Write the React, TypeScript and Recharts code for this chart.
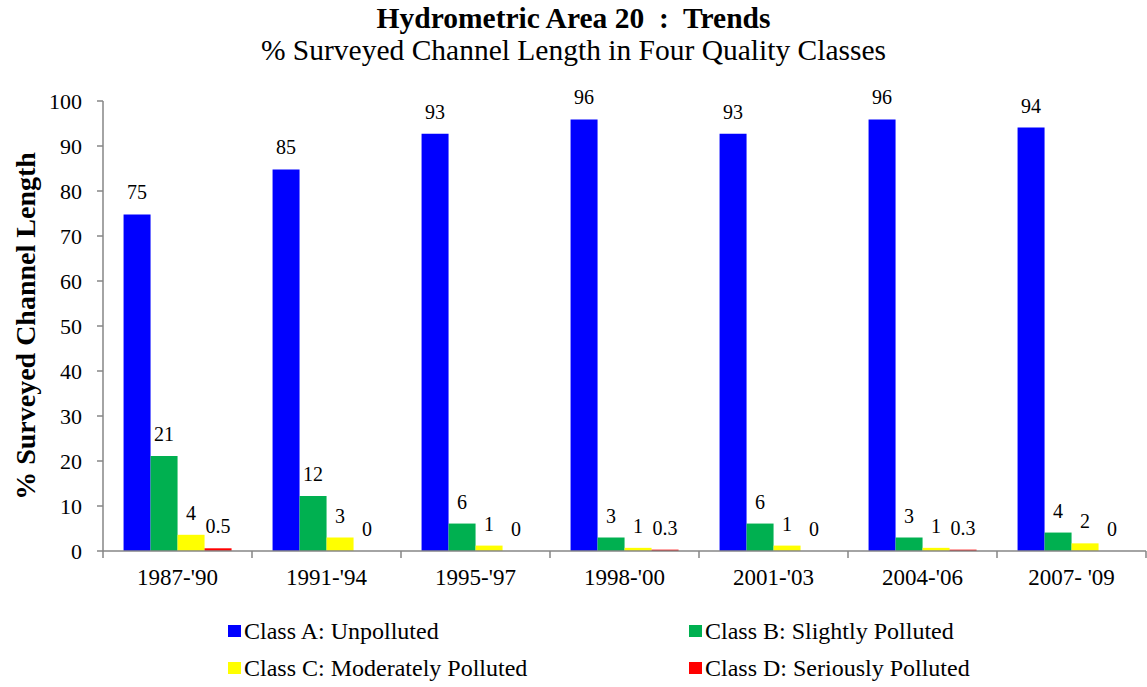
import React from "react";
import { BarChart, Bar, XAxis, YAxis, LabelList } from "recharts";

const categories = ["1987-'90", "1991-'94", "1995-'97", "1998-'00", "2001-'03", "2004-'06", "2007- '09"];
const classA = [74.8, 84.8, 92.7, 95.9, 92.7, 95.9, 94.1];
const classB = [21.1, 12.2, 6.1, 3.0, 6.1, 3.0, 4.1];
const classC = [3.6, 3.0, 1.2, 0.7, 1.2, 0.7, 1.7];
const classD = [0.6, 0, 0, 0.3, 0, 0.3, 0];
const labelsA = ["75", "85", "93", "96", "93", "96", "94"];
const labelsB = ["21", "12", "6", "3", "6", "3", "4"];
const labelsC = ["4", "3", "1", "1", "1", "1", "2"];
const labelsD = ["0.5", "0", "0", "0.3", "0", "0.3", "0"];
const yTicks = [0, 10, 20, 30, 40, 50, 60, 70, 80, 90, 100];

const seriesNames = [
  "Class A: Unpolluted",
  "Class B: Slightly Polluted",
  "Class C: Moderately Polluted",
  "Class D: Seriously Polluted",
];
const colors = ["#0000FF", "#00B050", "#FFFF00", "#FF0000"];

const W = 1147;
const H = 687;
const PLOT_LEFT = 103;
const PLOT_RIGHT = 1146;
const PLOT_TOP = 101;
const PLOT_BOTTOM = 551;
const X_AXIS_H = 40;
const BAND = (PLOT_RIGHT - PLOT_LEFT) / categories.length;
const FONT = "'Liberation Serif', 'Times New Roman', serif";
const AXIS_COLOR = "#868686";
const LABEL_OFFSET = 15;

const data = categories.map((name, i) => ({
  name,
  a: classA[i],
  b: classB[i],
  c: classC[i],
  d: classD[i],
  la: labelsA[i],
  lb: labelsB[i],
  lc: labelsC[i],
  ld: labelsD[i],
}));

function XTick(props: any) {
  const { x, payload, index } = props;
  const half = BAND / 2;
  const last = index === categories.length - 1;
  return (
    <g>
      <line x1={x - half} y1={PLOT_BOTTOM} x2={x - half} y2={PLOT_BOTTOM + 7} stroke={AXIS_COLOR} strokeWidth={1.5} />
      {last && (
        <line x1={x + half} y1={PLOT_BOTTOM} x2={x + half} y2={PLOT_BOTTOM + 7} stroke={AXIS_COLOR} strokeWidth={1.5} />
      )}
      <text x={x} y={PLOT_BOTTOM + 34} textAnchor="middle" fill="#000" fontSize={23} fontFamily={FONT}>
        {payload.value}
      </text>
    </g>
  );
}

const labelStyle = { fill: "#000", fontSize: 20, fontFamily: FONT };

// label for class C; also draws the class D label when D is zero (zero-height bars get no label of their own)
function ClassCLabel(props: any) {
  const { x, y, width, height, value, index } = props;
  const cx = x + width / 2;
  const base = y + height;
  return (
    <g>
      <text x={cx} y={y - LABEL_OFFSET} textAnchor="middle" {...labelStyle}>
        {value}
      </text>
      {classD[index] === 0 && (
        <text x={cx + width} y={base - LABEL_OFFSET} textAnchor="middle" {...labelStyle}>
          {labelsD[index]}
        </text>
      )}
    </g>
  );
}

export default function App() {
  const keys = ["a", "b", "c", "d"];
  const labelKeys = ["la", "lb", "lc", "ld"];
  return (
    <div style={{ position: "relative", width: W, height: H, background: "#fff", fontFamily: FONT }}>
      <style>{`body{margin:0}`}</style>

      {/* titles */}
      <div style={{ position: "absolute", left: 0, width: W, top: 2, textAlign: "center", fontSize: 29.5, fontWeight: "bold", lineHeight: "32px" }}>
        Hydrometric Area 20&nbsp; :&nbsp; Trends
      </div>
      <div style={{ position: "absolute", left: 0, width: W, top: 34, textAlign: "center", fontSize: 29.5, lineHeight: "32px" }}>
        % Surveyed Channel Length in Four Quality Classes
      </div>

      {/* y axis title */}
      <div
        style={{
          position: "absolute",
          left: 26,
          top: (PLOT_TOP + PLOT_BOTTOM) / 2,
          transform: "translate(-50%, -50%) rotate(-90deg)",
          whiteSpace: "nowrap",
          fontSize: 28,
          fontWeight: "bold",
        }}
      >
        % Surveyed Channel Length
      </div>

      <BarChart
        width={W}
        height={H}
        data={data}
        margin={{ top: PLOT_TOP, right: W - PLOT_RIGHT, left: 0, bottom: H - PLOT_BOTTOM - X_AXIS_H }}
        barCategoryGap="13.8%"
        barGap={0}
      >
        <XAxis
          dataKey="name"
          height={X_AXIS_H}
          tickLine={false}
          axisLine={{ stroke: AXIS_COLOR, strokeWidth: 1.5 }}
          tick={<XTick />}
          interval={0}
        />
        <YAxis
          width={PLOT_LEFT}
          domain={[0, 100]}
          ticks={yTicks}
          interval={0}
          axisLine={{ stroke: AXIS_COLOR, strokeWidth: 1.5 }}
          tickLine={{ stroke: AXIS_COLOR, strokeWidth: 1.5 }}
          tickSize={6}
          tickMargin={15}
          tick={{ fill: "#000", fontSize: 22, fontFamily: FONT }}
        />
        {keys.map((k, i) => (
          <Bar key={k} dataKey={k} name={seriesNames[i]} fill={colors[i]} isAnimationActive={false}>
            {k === "c" ? (
              <LabelList dataKey={labelKeys[i]} content={<ClassCLabel />} />
            ) : (
              <LabelList dataKey={labelKeys[i]} position="top" offset={LABEL_OFFSET} style={labelStyle} />
            )}
          </Bar>
        ))}
      </BarChart>

      {/* legend */}
      {seriesNames.map((n, i) => {
        const col = i % 2;
        const row = Math.floor(i / 2);
        return (
          <div
            key={n}
            style={{
              position: "absolute",
              left: col === 0 ? 228 : 689,
              top: (row === 0 ? 631 : 668) - 15,
              height: 30,
              display: "flex",
              alignItems: "center",
              fontSize: 24,
              whiteSpace: "nowrap",
            }}
          >
            <span style={{ display: "inline-block", width: 13, height: 12, background: colors[i], marginRight: 3 }} />
            {n}
          </div>
        );
      })}
    </div>
  );
}
